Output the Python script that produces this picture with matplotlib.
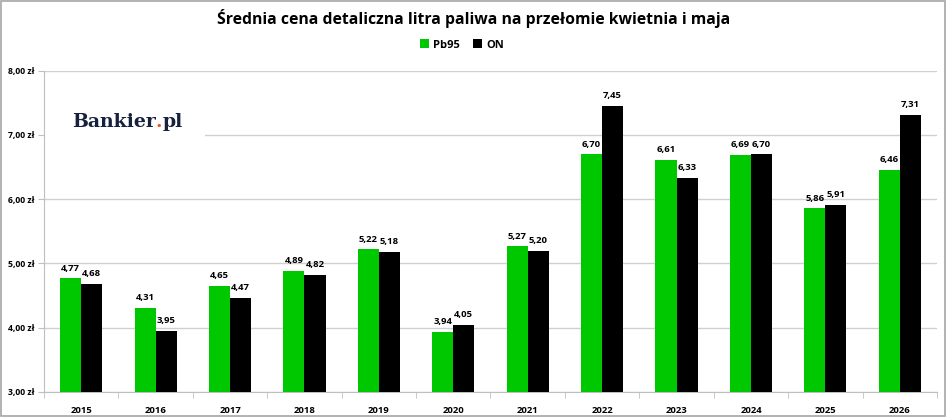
import matplotlib
matplotlib.use("Agg")
import matplotlib.pyplot as plt
from matplotlib.patches import Rectangle
import numpy as np

years = ["2015", "2016", "2017", "2018", "2019", "2020", "2021", "2022", "2023", "2024", "2025", "2026"]
pb95 = [4.77, 4.31, 4.65, 4.89, 5.22, 3.94, 5.27, 6.70, 6.61, 6.69, 5.86, 6.46]
on = [4.68, 3.95, 4.47, 4.82, 5.18, 4.05, 5.20, 7.45, 6.33, 6.70, 5.91, 7.31]
yticks = [3, 4, 5, 6, 7, 8]
title = "Średnia cena detaliczna litra paliwa na przełomie kwietnia i maja"

GREEN = "#00C800"
BLACK = "#000000"

plt.rcParams['font.family'] = ['Open Sans', 'DejaVu Sans']

fig = plt.figure(figsize=(9.48, 4.18), dpi=100)
ax = fig.add_axes([44/948, 1-392/418, (937-44)/948, (392-70.7)/418])

x = np.arange(len(years))
w = 0.283
b1 = ax.bar(x - w/2, pb95, w, color=GREEN, label="Pb95", zorder=3)
b2 = ax.bar(x + w/2, on, w, color=BLACK, label="ON", zorder=3)

def fmt(v):
    return f"{v:.2f}".replace(".", ",")

for bars, vals in ((b1, pb95), (b2, on)):
    for r, v in zip(bars, vals):
        ax.annotate(fmt(v), (r.get_x() + r.get_width()/2, v), xytext=(0, 4),
                    textcoords="offset points", ha="center", va="bottom",
                    fontsize=6.8, fontweight="bold", zorder=5)

ax.set_xlim(-0.5, len(years) - 0.5)
ax.set_ylim(3, 8)
ax.set_yticks(yticks)
ax.set_yticklabels([f"{t},00 zł" for t in yticks], fontsize=6.2, fontweight="bold")
ax.set_xticks(x)
ax.set_xticklabels(years, fontsize=6.8, fontweight="bold")
ax.tick_params(axis="x", length=0, pad=10)
ax.set_xticks(np.arange(-0.5, len(years)), minor=True)
ax.tick_params(axis="x", which="minor", length=4, color="#bfbfbf")
ax.tick_params(axis="y", length=4, color="#bfbfbf", pad=3)
ax.yaxis.grid(True, color="#d0d0d0", linewidth=1, zorder=0)
ax.set_axisbelow(True)
for s in ("top", "right"):
    ax.spines[s].set_visible(False)
for s in ("left", "bottom"):
    ax.spines[s].set_color("#bfbfbf")

# logo with white background covering gridline
ax.add_patch(Rectangle((-0.5, 6.55), 2.17, 0.75, facecolor="white", edgecolor="none",
                       zorder=2, transform=ax.transData))
renderer = fig.canvas.get_renderer()
logo_kw = dict(fontsize=13.6, fontweight="bold", family="DejaVu Serif", va="baseline", ha="left")
xpos = 72
ybase = 1 - 127/418
for part, col in (("Bankier", "#16213e"), (".", "#e8551c"), ("pl", "#16213e")):
    t = fig.text(xpos/948, ybase, part, color=col, **logo_kw)
    bb = t.get_window_extent(renderer)
    xpos += bb.width

fig.text(0.5, 1-19/418, title, ha="center", va="center", fontsize=11.3, fontweight="bold")
leg = fig.legend(handles=[b1, b2], loc="center", bbox_to_anchor=(462/948, 1-45/418),
                 ncol=2, frameon=False, fontsize=8, handlelength=0.8, handleheight=0.8,
                 handletextpad=0.4, columnspacing=1.2)
for t in leg.get_texts():
    t.set_fontweight("bold")

fig.add_artist(Rectangle((1/948, 2/418), 944/948, 415/418, transform=fig.transFigure,
                         fill=False, edgecolor="#a6a6a6", linewidth=1.2))

fig.savefig("out.png", dpi=100)
